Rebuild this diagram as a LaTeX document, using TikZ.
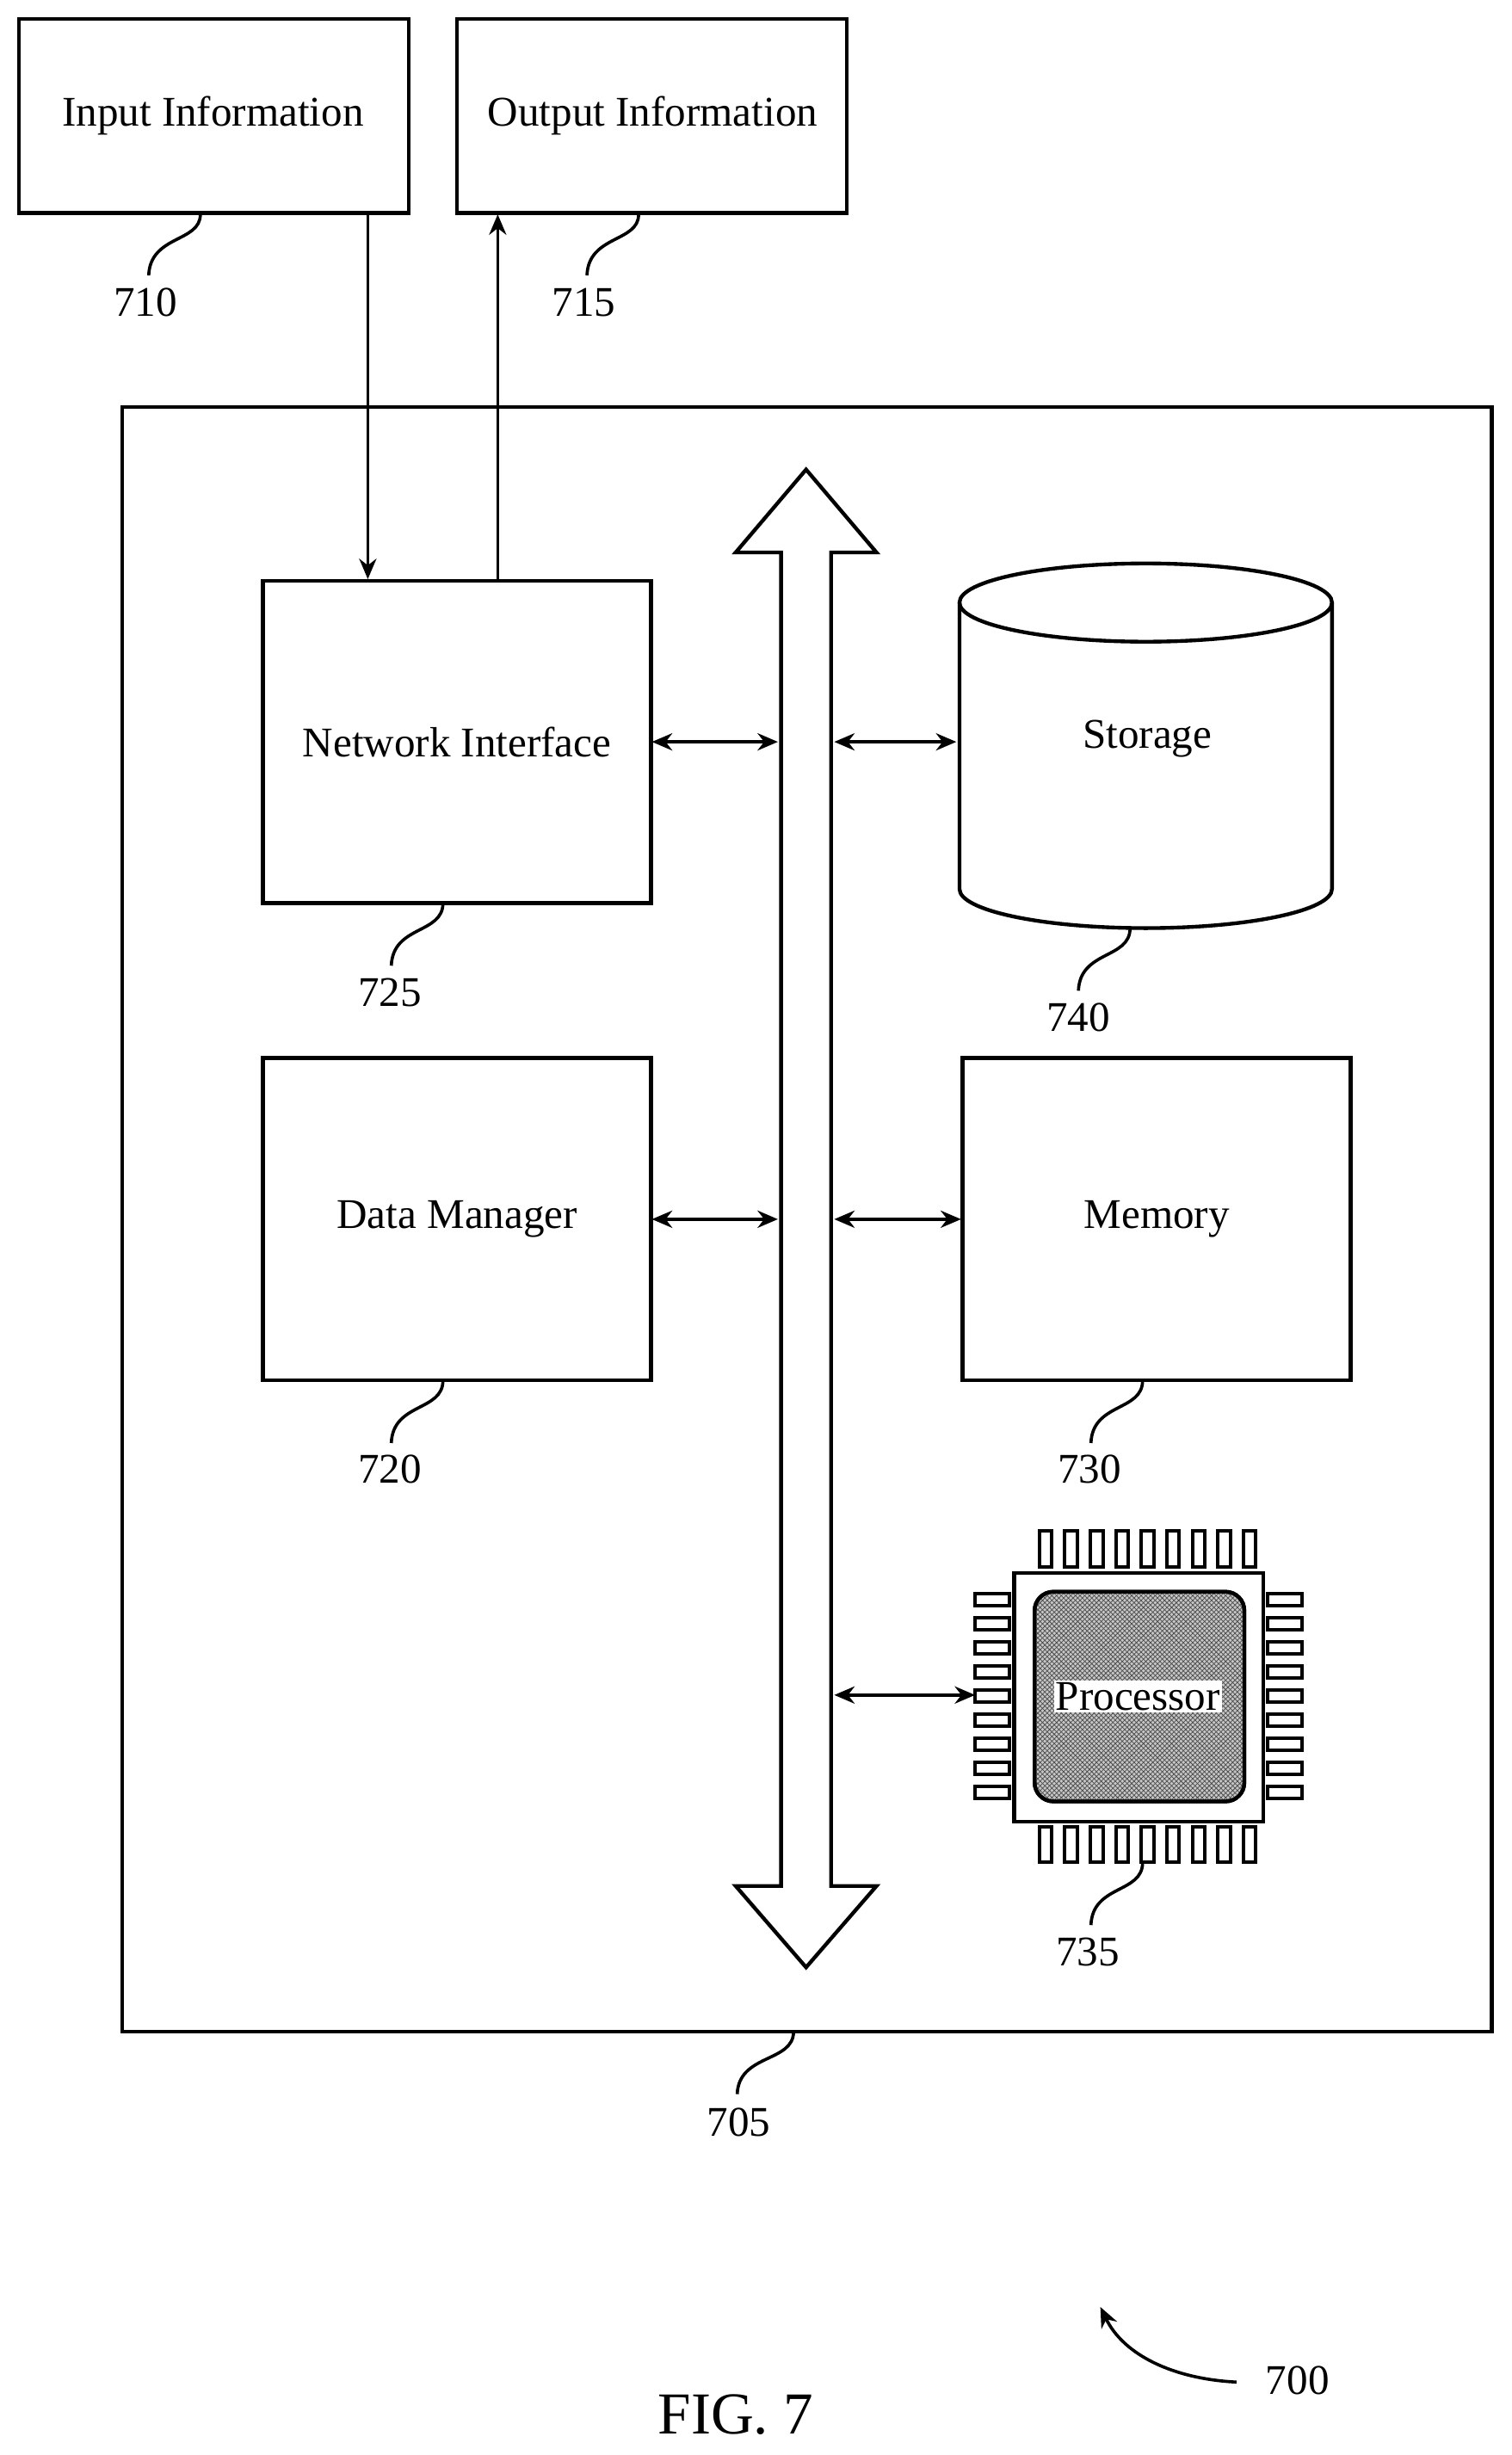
\documentclass[tikz,border=0pt]{standalone}
\usepackage{fontspec}
\setmainfont{Liberation Serif}
\usetikzlibrary{arrows.meta,patterns}
\begin{document}
\begin{tikzpicture}[x=1pt,y=-1pt,
  box/.style={draw,line width=2.4pt},
  lbl/.style={font=\fontsize{27}{32}\selectfont},
  conn/.style={line width=2pt,-{Stealth[length=13pt,width=11pt]}},
  dconn/.style={line width=2pt,{Stealth[length=13pt,width=11pt]}-{Stealth[length=13pt,width=11pt]}},
  lead/.style={line width=2pt},
  pin/.style={draw,line width=2.2pt,fill=white}]
\useasboundingbox (0,0) rectangle (966,1568.6);
% top boxes
\draw[box] (12,12) rectangle (261,136);
\node[lbl] (in) at (136,74) {Input Information};
\draw[box] (292,12) rectangle (541,136);
\node[lbl] (out) at (417,74) {Output Information};
\node[lbl] (l710) at (93,193) {710};
\node[lbl] (l715) at (373,193) {715};
\draw[lead] (128,137) .. controls (128,155) and (96,150) .. (95,176);
\draw[lead] (408,137) .. controls (408,155) and (376,150) .. (375,176);
% main box
\draw[box] (78,260) rectangle (953,1298);
\node[lbl] (l705) at (472,1356) {705};
\draw[lead] (507,1298) .. controls (507,1318) and (472,1312) .. (471,1338);
% network interface
\draw[box] (168,371) rectangle (416,577);
\node[lbl] (ni) at (292,474) {Network Interface};
\node[lbl] (l725) at (249,634) {725};
\draw[lead] (283,577) .. controls (283,597) and (251,591) .. (250,617);
% data manager
\draw[box] (168,676) rectangle (416,882);
\node[lbl] (dm) at (292,779) {Data Manager};
\node[lbl] (l720) at (249,939) {720};
\draw[lead] (283,882) .. controls (283,902) and (251,896) .. (250,922);
% storage cylinder
\draw[box] (613,385) -- (613,568) arc[start angle=180,end angle=0,x radius=119,y radius=25] -- (851,385);
\draw[box] (732,385) ellipse[x radius=119,y radius=25];
\node[lbl] (st) at (733,472) {Storage};
\node[lbl] (l740) at (689,650) {740};
\draw[lead] (722,593) .. controls (722,613) and (690,607) .. (689,633);
% memory
\draw[box] (615,676) rectangle (863,882);
\node[lbl] (mem) at (739,779) {Memory};
\node[lbl] (l730) at (696,939) {730};
\draw[lead] (730,882) .. controls (730,902) and (698,896) .. (697,922);
% processor chip
\foreach \i in {0,...,8}{
  \draw[pin] ({664+\i*16.3},978) rectangle ({672+\i*16.3},1001);
  \draw[pin] ({664+\i*16.3},1167) rectangle ({672+\i*16.3},1190);
  \draw[pin] (623,{1018+\i*15.4}) rectangle (645,{1026+\i*15.4});
  \draw[pin] (810,{1018+\i*15.4}) rectangle (832,{1026+\i*15.4});
}
\draw[box,fill=white] (648,1005) rectangle (807,1164);
\draw[line width=2.4pt,rounded corners=12pt,fill=gray!45] (661,1017) rectangle (795,1151);
\fill[pattern=crosshatch,pattern color=black!70,rounded corners=12pt] (662,1018) rectangle (794,1150);
\draw[line width=2.4pt,rounded corners=12pt] (661,1017) rectangle (795,1151);
\node[lbl,fill=white,inner sep=1pt] (proc) at (727,1084) {Processor};
\node[lbl] (l735) at (695,1247) {735};
\draw[lead] (730,1190) .. controls (730,1210) and (698,1204) .. (697,1230);
% bus
\draw[line width=2.4pt,fill=white] (515,300) -- (560,353) -- (531,353) -- (531,1205) -- (560,1205) -- (515,1257) -- (470,1205) -- (499,1205) -- (499,353) -- (470,353) -- cycle;
\coordinate (busL1) at (497,474); \coordinate (busR1) at (533,474);
\coordinate (busL2) at (497,779); \coordinate (busR2) at (533,779);
\coordinate (busR3) at (533,1083);
\draw[dconn] (416.5,474) -- (busL1);
\draw[dconn] (busR1) -- (611,474);
\draw[dconn] (416.5,779) -- (busL2);
\draw[dconn] (busR2) -- (614,779);
\draw[dconn] (busR3) -- (623,1083);
% io arrows
\draw[conn] (235,137) -- (235,370);
\draw[conn] (318,370) -- (318,137);
% figure labels
\node[lbl] (l700) at (829,1521) {700};
\draw[conn] (790,1522) .. controls (750,1520) and (718,1505) .. (703,1474);
\node[font=\fontsize{38}{42}\selectfont] (fig) at (470,1543) {FIG. 7};
\end{tikzpicture}
\end{document}
